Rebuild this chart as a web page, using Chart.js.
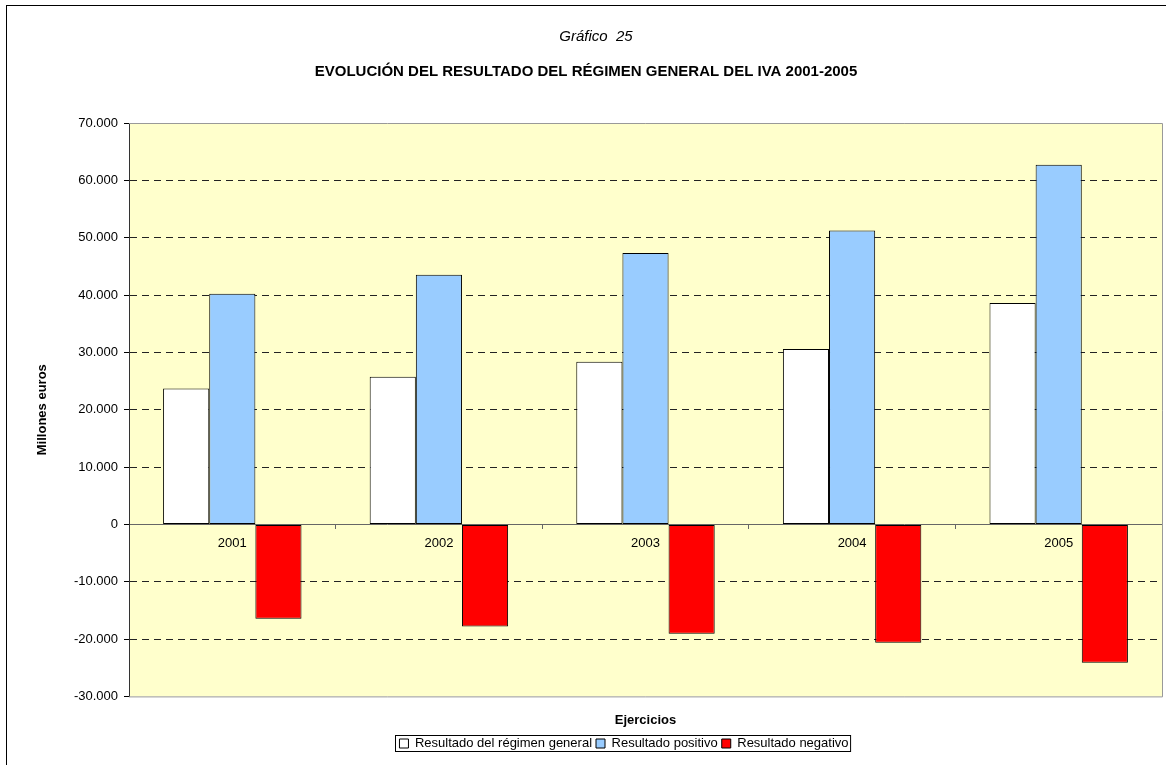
<!DOCTYPE html>
<html>
<head>
<meta charset="utf-8">
<title>Gráfico 25</title>
<script src="https://cdn.jsdelivr.net/npm/chart.js@4.4.1/dist/chart.umd.min.js"></script>
<style>
  html, body { margin: 0; padding: 0; background: #fff; overflow: hidden; }
  #wrap { width: 1166px; height: 765px; position: relative; }
</style>
</head>
<body>
<div id="wrap"><canvas id="myChart"></canvas></div>
<script>
// data (millones de euros)
const years = ["2001", "2002", "2003", "2004", "2005"];
const resultadoGeneral = [23710, 25750, 28360, 30570, 38590];
const resultadoPositivo = [40210, 43520, 47350, 51240, 62740];
const resultadoNegativo = [-16460, -17800, -19080, -20650, -24130];
const yMin = -30000;
const yMax = 70000;
const yStep = 10000;

const fmt = v => String(v).replace(/\B(?=(\d{3})+(?!\d))/g, ".");

Chart.defaults.font.family = "'Liberation Sans', Arial, sans-serif";
Chart.defaults.font.size = 13;
Chart.defaults.color = "#000";

// background, outer frame, plot border, legend border
const framePlugin = {
  id: "frame",
  afterLayout(chart) {
    // legend and "Gráfico 25" sit a bit right of centre in the original
    const lg = chart.legend;
    const shift = 38;
    lg.left += shift;
    lg.right += shift;
    (lg.legendHitBoxes || []).forEach(b => { b.left += shift; });
    if (chart.titleBlock) {
      chart.titleBlock.left += 10;
      chart.titleBlock.right += 10;
    }
  },
  beforeDraw(chart) {
    const { ctx, chartArea: a } = chart;
    ctx.save();
    ctx.fillStyle = "#fff";
    ctx.fillRect(0, 0, chart.width, chart.height);
    ctx.strokeStyle = "#000";
    ctx.lineWidth = 1;
    ctx.strokeRect(6.5, 5.5, chart.width + 20, chart.height + 20);
    ctx.fillStyle = "#FFFFCC";
    ctx.fillRect(a.left, a.top, a.right - a.left, a.bottom - a.top);
    ctx.restore();
  },
  afterDraw(chart) {
    const { ctx, chartArea: a } = chart;
    ctx.save();
    ctx.strokeStyle = "#999";
    ctx.lineWidth = 1;
    ctx.beginPath();
    ctx.moveTo(a.left, a.top + 0.5);
    ctx.lineTo(a.right + 0.5, a.top + 0.5);
    ctx.lineTo(a.right + 0.5, a.bottom + 0.5);
    ctx.lineTo(a.left, a.bottom + 0.5);
    ctx.stroke();
    const boxes = chart.legend.legendHitBoxes;
    if (boxes && boxes.length) {
      const l = Math.min(...boxes.map(b => b.left));
      const r = Math.max(...boxes.map(b => b.left + b.width));
      const t = Math.min(...boxes.map(b => b.top));
      const bt = Math.max(...boxes.map(b => b.top + b.height));
      ctx.strokeStyle = "#000";
      ctx.strokeRect(Math.round(l) - 3.5, Math.round(t) - 1.5, r - l + 6, bt - t + 3);
    }
    ctx.restore();
  }
};

const ctx = document.getElementById("myChart").getContext("2d");
const chart = new Chart(ctx, {
  type: "bar",
  data: {
    labels: years,
    datasets: [
      {
        label: "Resultado del régimen general",
        data: resultadoGeneral,
        backgroundColor: "#FFFFFF",
        borderColor: "#000",
        borderWidth: 1,
        borderSkipped: false
      },
      {
        label: "Resultado positivo",
        data: resultadoPositivo,
        backgroundColor: "#99CCFF",
        borderColor: "#000",
        borderWidth: 1,
        borderSkipped: false
      },
      {
        label: "Resultado negativo",
        data: resultadoNegativo,
        backgroundColor: "#FF0000",
        borderColor: "#000",
        borderWidth: 1,
        borderSkipped: false
      }
    ]
  },
  options: {
    responsive: true,
    maintainAspectRatio: false,
    animation: false,
    categoryPercentage: 0.67,
    barPercentage: 1,
    layout: { padding: { left: 10, right: 4, top: 0, bottom: 5 } },
    plugins: {
      title: {
        display: true,
        text: "Gráfico  25",
        font: { size: 15, style: "italic", weight: "normal" },
        padding: { top: 28, bottom: 7 }
      },
      subtitle: {
        display: true,
        text: "EVOLUCIÓN DEL RESULTADO DEL RÉGIMEN GENERAL DEL IVA 2001-2005",
        color: "#000",
        font: { size: 15, weight: "bold" },
        padding: { top: 10, bottom: 42 }
      },
      legend: {
        position: "bottom",
        labels: {
          boxWidth: 9,
          boxHeight: 9,
          padding: 4,
          font: { size: 13 }
        }
      },
      tooltip: { enabled: false }
    },
    scales: {
      x: {
        type: "category",
        position: { y: 0 },
        grid: { drawOnChartArea: false, tickLength: 4, tickColor: "#666" },
        border: { color: "#666" },
        ticks: { padding: 7, font: { size: 13 } }
      },
      x2: {
        type: "category",
        position: "bottom",
        labels: years,
        grid: { display: false, drawTicks: false },
        border: { display: false },
        ticks: { display: false },
        title: {
          display: true,
          text: "Ejercicios",
          font: { size: 13, weight: "bold" },
          padding: { top: 16, bottom: 5 }
        }
      },
      y: {
        min: yMin,
        max: yMax,
        afterFit: scale => { scale.width = 119; },
        ticks: {
          stepSize: yStep,
          padding: 6,
          font: { size: 13 },
          callback: v => fmt(v)
        },
        grid: {
          color: c => (c.tick && (c.tick.value === 0 || c.tick.value === yMax || c.tick.value === yMin)) ? "rgba(0,0,0,0)" : "#222",
          tickColor: "#000",
          tickLength: 5
        },
        border: { color: "#333", dash: [7, 5] },
        title: {
          display: true,
          text: "Millones euros",
          font: { size: 13, weight: "bold" },
          padding: { top: 25, bottom: 0 }
        }
      }
    }
  },
  plugins: [framePlugin]
});
</script>
</body>
</html>
